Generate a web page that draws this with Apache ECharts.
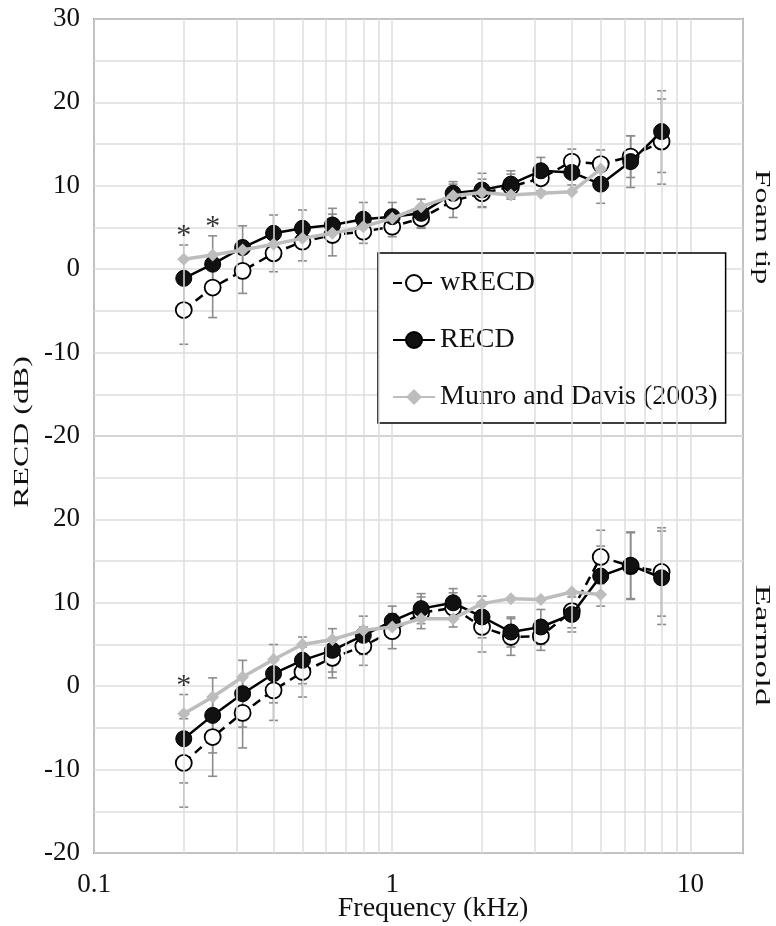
<!DOCTYPE html>
<html><head><meta charset="utf-8">
<script src="https://cdn.jsdelivr.net/npm/echarts@6/dist/echarts.min.js"></script>
<style>html,body{margin:0;padding:0;background:#fff}#c{width:776px;height:926px}</style>
</head><body><div id="c"></div>
<script>
// ---- data ----
const freqs = [0.2,0.25,0.315,0.4,0.5,0.63,0.8,1,1.25,1.6,2,2.5,3.15,4,5,6.3,8];
const munroFreqs = [0.2,0.25,0.315,0.4,0.5,0.63,0.8,1,1.25,1.6,2,2.5,3.15,4,5];
const gridFreqs = [0.2,0.3,0.4,0.5,0.6,0.7,0.8,0.9,2,3,4,5,6,7,8,9];
const yTickValues = [-20,-10,0,10,20,30];

// Foam tip panel
const wrecdFoam   = [-4.9,-2.2,-0.2,1.9,3.3,4.1,4.5,5.1,6.1,8.2,9.1,9.9,10.9,12.9,12.6,13.5,15.3];
const wrecdFoamSd = [4.1,3.6,2.7,2.2,2.3,2.5,1.4,1.2,1.2,2.0,1.7,1.5,1.5,1.5,1.7,2.5,5.1];
const recdFoam    = [-1.1,0.6,2.6,4.3,4.9,5.3,6.0,6.3,6.7,9.1,9.5,10.2,11.8,11.6,10.2,12.9,16.5];
const recdFoamSd  = [4.0,3.4,2.6,2.2,2.2,2.0,2.0,1.7,1.7,1.4,2.0,1.6,1.6,1.5,2.3,3.1,4.9];
const munroFoam   = [1.2,1.7,2.3,3.0,3.7,4.3,5.1,6.1,7.5,8.8,9.2,8.9,9.1,9.3,12.0];

// Earmold panel
const wrecdEar    = [-9.2,-6.1,-3.2,-0.5,1.7,3.4,4.8,6.6,8.8,9.4,7.1,5.9,6.0,9.0,15.5,14.4,13.7];
const wrecdEarSd  = [5.3,4.7,4.2,3.6,3.0,2.4,2.3,2.1,1.9,2.3,3.0,2.2,1.7,2.0,3.2,4.0,5.3];
const recdEar     = [-6.3,-3.5,-0.9,1.5,3.1,4.3,6.1,7.8,9.3,10.0,8.3,6.5,7.1,8.6,13.2,14.5,13.0];
const recdEarSd   = [5.3,4.5,4.0,3.5,2.8,2.6,2.3,1.8,1.8,1.2,2.5,1.8,2.1,2.1,3.6,4.0,5.6];
const munroEar    = [-3.3,-1.3,1.1,3.2,5.0,5.6,6.7,7.1,8.1,8.1,9.9,10.5,10.4,11.3,11.0];

// significance markers (*)
const starsFoam = [[0.2,4.4],[0.25,5.5]];
const starsEar  = [[0.2,0.5]];

// ---- chart ----
const FONT = "'Liberation Serif','Times New Roman',serif";
const TXT = '#111';
const GRIDC = '#dedede';

function pairs(xs, ys){ return xs.map((x,i)=>[x, ys[i]]); }
function errData(xs, m, sd){ return xs.map((x,i)=>[x, m[i]-sd[i], m[i]+sd[i]]); }

function renderErr(params, api){
  const x = api.value(0);
  const lo = api.coord([x, api.value(1)]);
  const hi = api.coord([x, api.value(2)]);
  const w = 4.5;
  const st = {stroke:'#8c8c8c', lineWidth:1.6};
  return {type:'group', children:[
    {type:'line', shape:{x1:lo[0],y1:lo[1],x2:hi[0],y2:hi[1]}, style:st},
    {type:'line', shape:{x1:lo[0]-w,y1:lo[1],x2:lo[0]+w,y2:lo[1]}, style:st},
    {type:'line', shape:{x1:hi[0]-w,y1:hi[1],x2:hi[0]+w,y2:hi[1]}, style:st}
  ]};
}

function panelSeries(idx, w, wsd, r, rsd, mu, stars){
  return [
    {type:'line', name:'_grid'+idx, xAxisIndex:idx, yAxisIndex:idx, data:[], z:1, silent:true,
     markLine:{silent:true, symbol:'none', label:{show:false}, animation:false,
       lineStyle:{color:GRIDC, type:'solid', width:1.5},
       data: gridFreqs.map(f=>({xAxis:f}))}},
    {type:'custom', name:'wRECD sd'+idx, xAxisIndex:idx, yAxisIndex:idx, z:2,
     renderItem:renderErr, encode:{x:0,y:[1,2]}, data:errData(freqs,w,wsd), silent:true},
    {type:'custom', name:'RECD sd'+idx, xAxisIndex:idx, yAxisIndex:idx, z:2,
     renderItem:renderErr, encode:{x:0,y:[1,2]}, data:errData(freqs,r,rsd), silent:true},
    {type:'line', name:'wRECD', xAxisIndex:idx, yAxisIndex:idx, z:3,
     data:pairs(freqs,w), symbol:'circle', symbolSize:16,
     itemStyle:{color:'#fff', borderColor:'#000', borderWidth:1.8},
     lineStyle:{color:'#000', width:2.5, type:[9,6]}},
    {type:'line', name:'RECD', xAxisIndex:idx, yAxisIndex:idx, z:4,
     data:pairs(freqs,r), symbol:'circle', symbolSize:16,
     itemStyle:{color:'#111', borderColor:'#000', borderWidth:1},
     lineStyle:{color:'#000', width:2.5}},
    {type:'line', name:'Munro and Davis (2003)', xAxisIndex:idx, yAxisIndex:idx, z:5,
     data:pairs(munroFreqs,mu), symbol:'diamond', symbolSize:13,
     itemStyle:{color:'#bdbdbd'}, lineStyle:{color:'#bdbdbd', width:3.5}},
    {type:'scatter', name:'sig'+idx, xAxisIndex:idx, yAxisIndex:idx, z:6,
     data:stars, symbolSize:0, silent:true,
     label:{show:true, position:'inside', formatter:'*', fontFamily:FONT, fontSize:30, color:'#000', offset:[0,4]}}
  ];
}

const chart = echarts.init(document.getElementById('c'), null, {renderer:'canvas'});
const xAx = (idx, showLabels) => ({
  type:'log', logBase:10, min:0.1, max:15, gridIndex:idx,
  axisLine:{show:false}, axisTick:{show:false},
  axisLabel:{show:showLabels, fontFamily:FONT, fontSize:27, color:TXT, margin:18,
    formatter:v => String(v), showMaxLabel:false},
  splitLine:{show:true, lineStyle:{color:GRIDC, width:1.5}}
});
const yAx = (idx, hideTop) => ({
  type:'value', min:-20, max:30, interval:5, gridIndex:idx,
  axisLine:{show:false}, axisTick:{show:false},
  axisLabel:{fontFamily:FONT, fontSize:27, color:TXT, margin:14,
    formatter:v => (yTickValues.indexOf(v) >= 0 && !(hideTop && v===30)) ? String(v) : ''},
  splitLine:{show:true, lineStyle:{color:GRIDC, width:1.5}}
});

chart.setOption({
  animation:false,
  backgroundColor:'#fff',
  grid:[
    {left:94, right:33, top:19, height:417, show:true, borderColor:'#4a4a4a', borderWidth:1.6, backgroundColor:'transparent'},
    {left:94, right:33, top:436, height:417, show:true, borderColor:'#4a4a4a', borderWidth:1.6, backgroundColor:'transparent'}
  ],
  xAxis:[xAx(0,false), xAx(1,true)],
  yAxis:[yAx(0,false), yAx(1,true)],
  legend:{
    data:['wRECD','RECD','Munro and Davis (2003)'],
    orient:'vertical', left:378, top:253,
    padding:[16,8,12,14], itemGap:29, itemWidth:42, itemHeight:20,
    backgroundColor:'#fff', borderColor:'#000', borderWidth:1.5, borderRadius:0,
    textStyle:{fontFamily:FONT, fontSize:28, color:TXT},
    selectedMode:false
  },
  graphic:[
    {type:'text', x:22, y:432, rotation:Math.PI/2, scaleX:1.45, z:10,
     style:{text:'RECD (dB)', font:'22px '+FONT, fill:TXT, align:'center', verticalAlign:'middle'}},
    {type:'text', x:433, y:909, z:10,
     style:{text:'Frequency (kHz)', font:'28px '+FONT, fill:TXT, align:'center', verticalAlign:'middle'}},
    {type:'text', x:762, y:227, rotation:-Math.PI/2, scaleX:1.45, z:10,
     style:{text:'Foam tip', font:'22px '+FONT, fill:TXT, align:'center', verticalAlign:'middle'}},
    {type:'text', x:762, y:645, rotation:-Math.PI/2, scaleX:1.6, z:10,
     style:{text:'Earmold', font:'22px '+FONT, fill:TXT, align:'center', verticalAlign:'middle'}}
  ],
  series:[].concat(
    panelSeries(0, wrecdFoam, wrecdFoamSd, recdFoam, recdFoamSd, munroFoam, starsFoam),
    panelSeries(1, wrecdEar, wrecdEarSd, recdEar, recdEarSd, munroEar, starsEar)
  )
});
</script></body></html>
